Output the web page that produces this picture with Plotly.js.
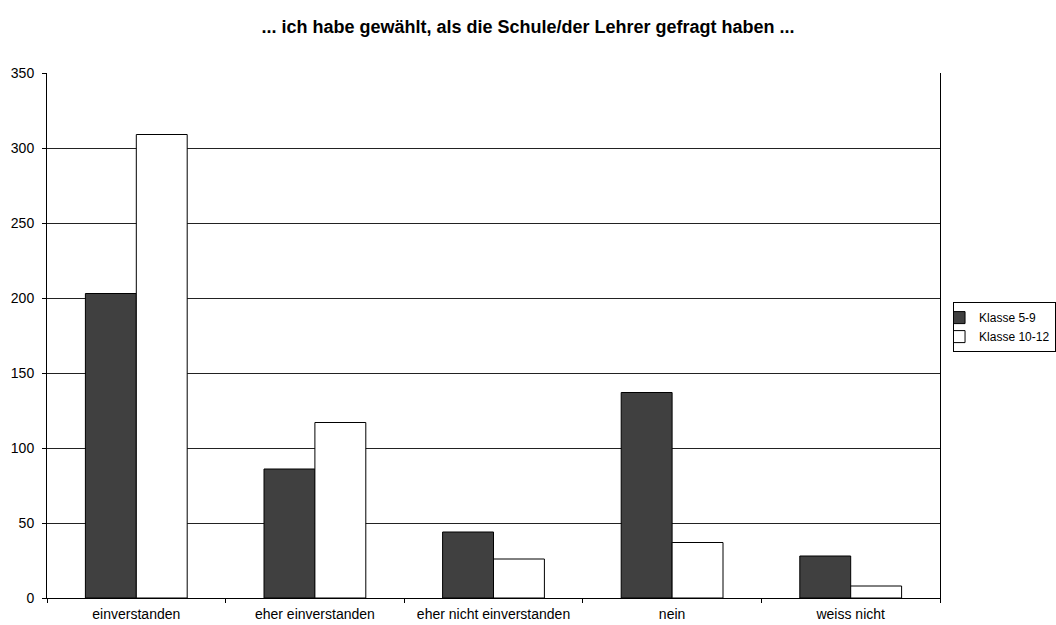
<!DOCTYPE html>
<html>
<head>
<meta charset="utf-8">
<script src="https://cdn.plot.ly/plotly-3.0.1.min.js"></script>
<style>
  html, body { margin: 0; padding: 0; background: #fff; }
  #chart { width: 1056px; height: 625px; }
</style>
</head>
<body>
<div id="chart"></div>
<script>
// Antworten nach Klassenstufe
const categories = ["einverstanden", "eher einverstanden", "eher nicht einverstanden", "nein", "weiss nicht"];
const klasse5bis9 = [203, 86, 44, 137, 28];
const klasse10bis12 = [309, 117, 26, 37, 8];
const yTicks = [0, 50, 100, 150, 200, 250, 300, 350];

const font = "Liberation Sans, Arial, sans-serif";

const traces = [
  {
    type: "bar",
    name: "Klasse 5-9",
    x: categories,
    y: klasse5bis9,
    marker: { color: "#404040", line: { color: "#000", width: 1 } },
    hoverinfo: "x+y+name"
  },
  {
    type: "bar",
    name: "Klasse 10-12",
    x: categories,
    y: klasse10bis12,
    marker: { color: "#ffffff", line: { color: "#000", width: 1 } },
    hoverinfo: "x+y+name"
  }
];

const layout = {
  width: 1056,
  height: 625,
  paper_bgcolor: "#fff",
  plot_bgcolor: "#fff",
  font: { family: font, size: 14, color: "#000" },
  title: {
    text: "<b>... ich habe gewählt, als die Schule/der Lehrer gefragt haben ...</b>",
    font: { family: font, size: 18, color: "#000" },
    x: 0.5,
    xref: "container",
    xanchor: "center",
    y: 0.958,
    yanchor: "middle"
  },
  margin: { l: 47, r: 116, t: 73, b: 27, autoexpand: false },
  barmode: "group",
  bargap: 0.43,
  bargroupgap: 0,
  xaxis: {
    type: "category",
    showline: true,
    linecolor: "#000",
    linewidth: 1,
    ticks: "outside",
    tickson: "boundaries",
    ticklen: 4,
    tickcolor: "#000",
    ticklabelstandoff: 3,
    showgrid: false,
    tickfont: { family: font, size: 14, color: "#000" },
    fixedrange: true
  },
  yaxis: {
    range: [0, 350],
    tickvals: yTicks,
    ticktext: yTicks.map(String),
    showline: true,
    mirror: true,
    linecolor: "#000",
    linewidth: 1,
    ticks: "outside",
    ticklen: 4,
    tickcolor: "#000",
    ticklabelstandoff: 5,
    showgrid: true,
    gridcolor: "#222",
    gridwidth: 1,
    zeroline: false,
    tickfont: { family: font, size: 14, color: "#000" },
    fixedrange: true
  },
  showlegend: true,
  legend: {
    x: 1.0146,
    xanchor: "left",
    y: 0.516,
    yanchor: "middle",
    bordercolor: "#000",
    borderwidth: 1,
    bgcolor: "#fff",
    indentation: -15,
    font: { family: font, size: 12, color: "#000" },
    tracegroupgap: 0,
    itemwidth: 30
  }
};

Plotly.newPlot("chart", traces, layout, { displayModeBar: false, staticPlot: true });
</script>
</body>
</html>
